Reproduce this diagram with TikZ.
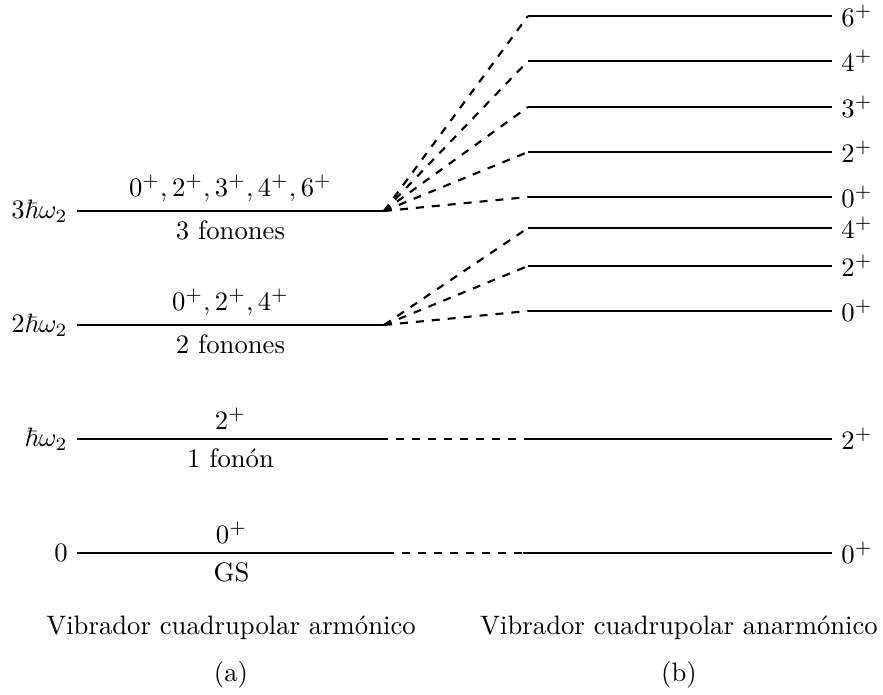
\documentclass[tikz,border=0pt]{standalone}
\usepackage{amsmath,amssymb}
\usepackage{tikz}
\usetikzlibrary{positioning,calc}
\tikzset{
  level diagram/.style={
    x=0.375pt,
    y=-0.375pt,
    line cap=butt
  },
  levelline/.style={draw=black, line width=0.4pt},
  mixline/.style={draw=black, dashed, thick},
  gsline/.style={draw=black, dashed, line width=0.4pt},
  energylabel/.style={left, inner sep=3.33pt},
  spinlabel/.style={right, inner sep=3.33pt},
  captionlabel/.style={align=center, inner sep=1pt}
}

\begin{document}
\begin{tikzpicture}[level diagram]
\useasboundingbox (0,0) rectangle (883,695);
% (a) vibrador armonico
\coordinate (gsL) at (77,553);    \coordinate (gsR) at (386,553);
\coordinate (oneL) at (77,439);   \coordinate (oneR) at (384,439);
\coordinate (twoL) at (77,325);   \coordinate (twoR) at (384,325);
\coordinate (threeL) at (77,211); \coordinate (threeR) at (384,211);
\draw[levelline] (gsL) -- (gsR);
\draw[levelline] (oneL) -- (oneR);
\draw[levelline] (twoL) -- (twoR);
\draw[levelline] (threeL) -- (threeR);
\node[energylabel] (egs) at (gsL) {$0$};
\node[energylabel] (eone) at (oneL) {$\hbar\omega_2$};
\node[energylabel] (etwo) at (twoL) {$2\hbar\omega_2$};
\node[energylabel] (ethree) at (threeL) {$3\hbar\omega_2$};
\node[above] (jgs) at ($(gsL)!0.5!(gsR)$) {$0^+$};
\node[below] (ngs) at ($(gsL)!0.5!(gsR)$) {GS};
\node[above] (jone) at ($(oneL)!0.5!(oneR)$) {$2^+$};
\node[below] (none) at ($(oneL)!0.5!(oneR)$) {1 fon\'on};
\node[above] (jtwo) at ($(twoL)!0.5!(twoR)$) {$0^+, 2^+, 4^+$};
\node[below] (ntwo) at ($(twoL)!0.5!(twoR)$) {2 fonones};
\node[above] (jthree) at ($(threeL)!0.5!(threeR)$) {$0^+, 2^+, 3^+, 4^+, 6^+$};
\node[below] (nthree) at ($(threeL)!0.5!(threeR)$) {3 fonones};
% (b) vibrador anarmonico
\coordinate (gsbL) at (523,553);  \coordinate (gsbR) at (832,553);
\coordinate (onebL) at (528,439); \coordinate (onebR) at (832,439);
\coordinate (d0L) at (528,311);   \coordinate (d0R) at (832,311);
\coordinate (d2L) at (528,266);   \coordinate (d2R) at (832,266);
\coordinate (d4L) at (528,228);   \coordinate (d4R) at (832,228);
\coordinate (t0L) at (528,197);   \coordinate (t0R) at (832,197);
\coordinate (t2L) at (528,152);   \coordinate (t2R) at (832,152);
\coordinate (t3L) at (528,107);   \coordinate (t3R) at (832,107);
\coordinate (t4L) at (528,61);    \coordinate (t4R) at (832,61);
\coordinate (t6L) at (528,16);    \coordinate (t6R) at (832,16);
\foreach \lv in {gsb,oneb,d0,d2,d4,t0,t2,t3,t4,t6}
  \draw[levelline] (\lv L) -- (\lv R);
\node[spinlabel] (sgs) at (gsbR) {$0^+$};
\node[spinlabel] (sone) at (onebR) {$2^+$};
\node[spinlabel] (sd0) at (d0R) {$0^+$};
\node[spinlabel] (sd2) at (d2R) {$2^+$};
\node[spinlabel] (sd4) at (d4R) {$4^+$};
\node[spinlabel] (st0) at (t0R) {$0^+$};
\node[spinlabel] (st2) at (t2R) {$2^+$};
\node[spinlabel] (st3) at (t3R) {$3^+$};
\node[spinlabel] (st4) at (t4R) {$4^+$};
\node[spinlabel] (st6) at (t6R) {$6^+$};
% conexiones
\draw[gsline] (gsR) -- (gsbL);
\draw[mixline] ($(oneR)+(-4,0)$) -- (onebL);
\foreach \lv in {d0,d2,d4}
  \draw[mixline] (twoR) -- (\lv L);
\foreach \lv in {t0,t2,t3,t4,t6}
  \draw[mixline] (threeR) -- (\lv L);
% pies
\node[captionlabel] (capa) at (231,628) {Vibrador cuadrupolar arm\'onico};
\node[captionlabel] (laba) at (231,675) {(a)};
\node[captionlabel] (capb) at (679,628) {Vibrador cuadrupolar anarm\'onico};
\node[captionlabel] (labb) at (679,675) {(b)};
\end{tikzpicture}
\end{document}
